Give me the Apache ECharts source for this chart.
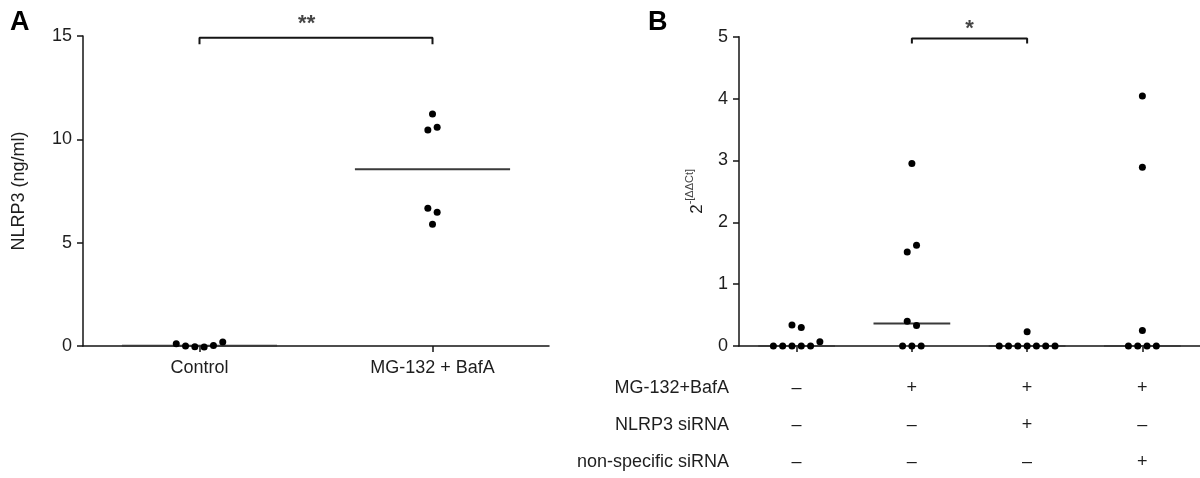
<!DOCTYPE html>
<html>
<head>
<meta charset="utf-8">
<script src="https://cdn.jsdelivr.net/npm/echarts@6/dist/echarts.min.js"></script>
<style>
  html, body { margin: 0; padding: 0; background: #fff; }
  #chart { width: 1200px; height: 478px; }
</style>
</head>
<body>
<div id="chart"></div>
<script>
// ---- Panel A: NLRP3 protein (ng/ml) ----
const groupsA = ['Control', 'MG-132 + BafA'];
const controlA = [0.11, 0.0, -0.04, -0.05, 0.02, 0.19];
const treatedA = [10.45, 10.58, 11.22, 6.66, 6.47, 5.89];
const ticksA = [0, 5, 10, 15];

// ---- Panel B: relative NLRP3 mRNA, 2^-ΔΔCt ----
const untreatedB = [0, 0, 0, 0, 0, 0.07, 0.34, 0.30];
const mgBafB = [0, 0, 0, 0.40, 0.33, 1.52, 1.63, 2.95];
const nlrp3SiB = [0, 0, 0, 0, 0, 0, 0, 0.23];
const nonSpecSiB = [0, 0, 0, 0, 0.25, 2.89, 4.04];
const ticksB = [0, 1, 2, 3, 4, 5];

// treatment table under panel B
const conditionNames = ['MG-132+BafA', 'NLRP3 siRNA', 'non-specific siRNA'];
const mgBafRow = ['\u2013', '+', '+', '+'];
const nlrp3Row = ['\u2013', '\u2013', '+', '\u2013'];
const nonSpecRow = ['\u2013', '\u2013', '\u2013', '+'];

const FONT = "'Liberation Sans', Arial, Helvetica, sans-serif";
const INK = '#151515';
const DOT = 7;          // dot diameter, px
const DOT_STEP = 9.3;   // horizontal spacing between touching dots, px
const HALF_BAR = 0.333; // half-width of the median bar, in group units

function median(arr) {
  const s = arr.slice().sort((a, b) => a - b);
  const m = Math.floor(s.length / 2);
  return s.length % 2 ? s[m] : (s[m - 1] + s[m]) / 2;
}

// Column-scatter layout: dots whose values would overlap are laid side by side.
function swarmOffsets(vals, pxPerUnit) {
  const order = vals.map((v, i) => i).sort((a, b) => vals[a] - vals[b] || a - b);
  const clusters = [];
  let cur = [order[0]];
  for (let j = 1; j < order.length; j++) {
    if ((vals[order[j]] - vals[order[j - 1]]) * pxPerUnit < DOT + 1) cur.push(order[j]);
    else { clusters.push(cur); cur = [order[j]]; }
  }
  clusters.push(cur);
  const off = new Array(vals.length).fill(0);
  clusters.forEach(c => {
    c.sort((a, b) => a - b);
    c.forEach((i, k) => { off[i] = (k - (c.length - 1) / 2) * DOT_STEP; });
  });
  return off;
}

function dotData(groups, pxPerUnit) {
  const out = [];
  groups.forEach((vals, g) => {
    const off = pxPerUnit ? swarmOffsets(vals, pxPerUnit) : vals.map(() => 0);
    vals.forEach((v, i) => out.push({ value: [g, v], symbolOffset: [off[i], 0] }));
  });
  return out;
}

function medianSeries(groups, xi, yi, width, color) {
  return groups.map((vals, g) => ({
    type: 'line', xAxisIndex: xi, yAxisIndex: yi, symbol: 'none', silent: true, z: 3, clip: false,
    lineStyle: { color: color, width: width },
    data: [[g - HALF_BAR, median(vals)], [g + HALF_BAR, median(vals)]]
  }));
}

function bracketSeries(xi, yi, g0, g1, yTop, yEnd) {
  return {
    type: 'line', xAxisIndex: xi, yAxisIndex: yi, symbol: 'none', silent: true, clip: false,
    lineStyle: { color: INK, width: 2 },
    data: [[g0, yEnd], [g0, yTop], [g1, yTop], [g1, yEnd]]
  };
}

function starSeries(xi, yi, x, y, text, dy) {
  return {
    type: 'scatter', xAxisIndex: xi, yAxisIndex: yi, symbolSize: 1, silent: true, clip: false,
    itemStyle: { color: 'rgba(0,0,0,0)' },
    label: { show: true, position: 'inside', offset: [0, dy], formatter: text,
             color: INK, fontFamily: FONT, fontSize: 22, fontWeight: 'bold' },
    data: [[x, y]]
  };
}

const axisLine = { show: true, onZero: false, lineStyle: { color: INK, width: 1.5 } };
const axisTick = { show: true, length: 6, lineStyle: { color: INK, width: 1.5 } };
const labelStyle = { color: '#1e1e1e', fontFamily: FONT, fontSize: 18 };

const groupsB = [untreatedB, mgBafB, nlrp3SiB, nonSpecSiB];
const groupsAData = [controlA, treatedA];

function tableAxis(row, name, offset) {
  return {
    type: 'value', gridIndex: 1, position: 'bottom', min: -0.5, max: 3.5, offset: offset,
    axisLine: { show: false, onZero: false }, axisTick: { show: false }, splitLine: { show: false },
    axisLabel: Object.assign({}, labelStyle, {
      customValues: [0, 1, 2, 3], margin: 0, verticalAlign: 'middle',
      formatter: v => row[Math.round(v)]
    }),
    name: name, nameLocation: 'start', nameGap: 10,
    nameTextStyle: Object.assign({}, labelStyle, { align: 'right', verticalAlign: 'middle' })
  };
}

function buildOption(kA, kB) {
  const dotStyle = { color: '#000', opacity: 1 };
  return {
    animation: false,
    backgroundColor: '#ffffff',
    grid: [
      { left: 83, top: 36, width: 466, height: 310 },
      { left: 739, top: 36.7, width: 466, height: 309.3 }
    ],
    xAxis: [
      {
        type: 'value', gridIndex: 0, position: 'bottom', min: -0.5, max: 1.5,
        axisLine: axisLine, splitLine: { show: false },
        axisTick: Object.assign({}, axisTick, { customValues: [0, 1] }),
        axisLabel: Object.assign({}, labelStyle, {
          customValues: [0, 1], margin: 13, formatter: v => groupsA[Math.round(v)]
        })
      },
      {
        type: 'value', gridIndex: 1, position: 'bottom', min: -0.5, max: 3.5,
        axisLine: axisLine, splitLine: { show: false },
        axisTick: Object.assign({}, axisTick, { customValues: [0, 1, 2, 3] }),
        axisLabel: { show: false }
      },
      tableAxis(mgBafRow, conditionNames[0], 42),
      tableAxis(nlrp3Row, conditionNames[1], 79.5),
      tableAxis(nonSpecRow, conditionNames[2], 116)
    ],
    yAxis: [
      {
        type: 'value', gridIndex: 0, position: 'left', min: ticksA[0], max: ticksA[ticksA.length - 1],
        interval: ticksA[1] - ticksA[0],
        axisLine: axisLine, axisTick: axisTick, splitLine: { show: false },
        axisLabel: Object.assign({}, labelStyle, { margin: 11 }),
        name: 'NLRP3 (ng/ml)', nameLocation: 'middle', nameRotate: 90, nameGap: 55,
        nameTextStyle: Object.assign({}, labelStyle)
      },
      {
        type: 'value', gridIndex: 1, position: 'left', min: ticksB[0], max: ticksB[ticksB.length - 1],
        interval: ticksB[1] - ticksB[0],
        axisLine: axisLine, axisTick: axisTick, splitLine: { show: false },
        axisLabel: Object.assign({}, labelStyle, { margin: 11 }),
        name: '{b|2}{s|-[\u0394\u0394Ct]}', nameLocation: 'middle', nameRotate: 90, nameGap: 33,
        nameTextStyle: {
          rich: {
            b: { fontFamily: FONT, fontSize: 17, color: '#1e1e1e', lineHeight: 22, verticalAlign: 'bottom' },
            s: { fontFamily: FONT, fontSize: 11, color: '#444', lineHeight: 22, verticalAlign: 'top' }
          }
        }
      }
    ],
    graphic: [
      { type: 'text', left: 10, top: 9, style: { text: 'A', fontFamily: FONT, fontSize: 27, fontWeight: 'bold', fill: '#000' } },
      { type: 'text', left: 648, top: 9, style: { text: 'B', fontFamily: FONT, fontSize: 27, fontWeight: 'bold', fill: '#000' } }
    ],
    series: [].concat(
      medianSeries(groupsAData, 0, 0, 2, '#3a3a3a'),
      [{
        type: 'scatter', xAxisIndex: 0, yAxisIndex: 0, symbol: 'circle', symbolSize: DOT, z: 5, clip: false,
        itemStyle: dotStyle, data: dotData(groupsAData, kA)
      }],
      [bracketSeries(0, 0, 0, 1, 14.92, 14.6), starSeries(0, 0, 0.46, 15, '**', -12)],
      medianSeries(groupsB, 1, 1, 2, '#3a3a3a'),
      [{
        type: 'scatter', xAxisIndex: 1, yAxisIndex: 1, symbol: 'circle', symbolSize: DOT, z: 5, clip: false,
        itemStyle: dotStyle, data: dotData(groupsB, kB)
      }],
      [bracketSeries(1, 1, 1, 2, 4.97, 4.89), starSeries(1, 1, 1.5, 5, '*', -8)]
    )
  };
}

const chart = echarts.init(document.getElementById('chart'), null, { renderer: 'canvas' });
chart.setOption(buildOption(null, null));
// pixel size of one data unit on each value axis, used to lay out touching dots
const kA = chart.convertToPixel({ yAxisIndex: 0 }, 0) - chart.convertToPixel({ yAxisIndex: 0 }, 1);
const kB = chart.convertToPixel({ yAxisIndex: 1 }, 0) - chart.convertToPixel({ yAxisIndex: 1 }, 1);
chart.setOption(buildOption(kA, kB), true);
</script>
</body>
</html>
